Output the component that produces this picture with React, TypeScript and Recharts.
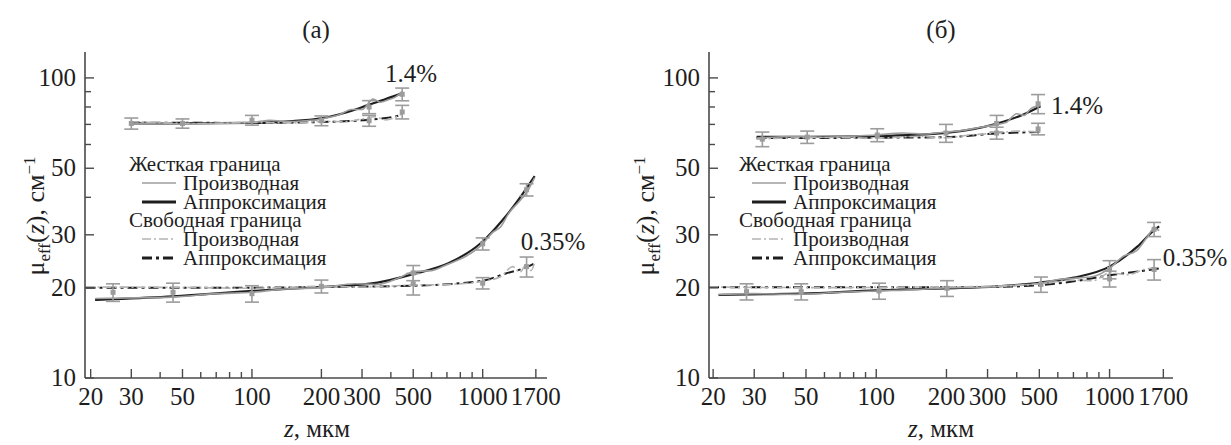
import React from 'react'
import { ComposedChart, Line, Scatter, ErrorBar, XAxis, YAxis } from 'recharts'

const FONT = 'Liberation Serif, Tinos, serif'
const INK = '#1e1e1e'
const AXIS = '#4a4a4a'
const GRAY = '#9c9c9c'
const LIGHT = '#b4b4b4'

// axis ticks
const X_MAJOR = [20, 30, 50, 100, 200, 300, 500, 1000, 1700]
const X_MINOR = [40, 60, 70, 80, 90, 400, 600, 700, 800, 900]
const Y_MAJOR = [10, 20, 30, 50, 100]
const Y_MINOR = [40, 60, 70, 80, 90]

// ---------- panel (a) ----------
// 1.4% (upper curves)
const aHiFitZ = [29.5, 50, 100, 150, 200, 260, 320, 380, 448]
const aHiFitV = [70.5, 70.5, 70.8, 71.8, 73.3, 77.0, 81.3, 85.0, 89.0]
const aHiDerZ = [29.5, 40, 50, 70, 100, 120, 140, 170, 200, 240, 270, 300, 335, 360, 390, 420, 448]
const aHiDerV = [70.0, 70.8, 70.2, 70.6, 71.0, 72.3, 71.5, 72.0, 73.0, 75.5, 78.5, 78.5, 85.0, 83.0, 84.5, 86.5, 90.0]
const aHiFreeFitZ = [29.5, 100, 200, 300, 380, 448]
const aHiFreeFitV = [71.0, 70.8, 71.3, 72.2, 73.5, 75.2]
const aHiFreeDerZ = [29.5, 60, 100, 150, 200, 250, 300, 340, 380, 420, 448]
const aHiFreeDerV = [71.5, 70.5, 71.0, 70.8, 71.6, 71.5, 73.0, 74.2, 72.5, 74.0, 76.0]
// 0.35% (lower curves)
const aLoFitZ = [20.9, 25, 45.5, 100, 200, 350, 500, 710, 1000, 1200, 1430, 1680]
const aLoFitV = [18.2, 18.3, 18.7, 19.5, 20.1, 20.8, 22.2, 24.1, 28.5, 33.1, 39.3, 47.1]
const aLoDerZ = [20.9, 30, 45, 70, 100, 140, 200, 280, 350, 430, 500, 600, 710, 850, 1000, 1100, 1200, 1300, 1430, 1550, 1680]
const aLoDerV = [18.4, 18.5, 18.6, 19.1, 19.3, 19.8, 20.0, 20.6, 20.5, 21.5, 22.6, 22.8, 24.0, 25.5, 28.0, 30.5, 32.0, 35.5, 38.5, 41.5, 46.5]
const aLoFreeFitZ = [19, 100, 200, 500, 1000, 1260, 1550, 1680]
const aLoFreeFitV = [20.0, 20.0, 20.1, 20.3, 21.1, 22.3, 23.4, 24.1]
const aLoFreeDerZ = [19, 60, 100, 200, 300, 500, 700, 1000, 1200, 1350, 1450, 1550, 1620, 1680]
const aLoFreeDerV = [20.1, 20.0, 19.9, 20.2, 20.1, 20.4, 20.5, 21.0, 21.8, 23.5, 22.5, 24.0, 22.8, 24.3]
// error bars
const aErrHardZ = [30, 50, 100, 200, 322, 448, 25, 45.5, 100, 200, 500, 1000, 1550]
const aErrHardV = [70.5, 70.5, 72.3, 72.0, 80.0, 88.2, 19.3, 19.3, 19.1, 20.2, 22.4, 28.0, 42.4]
const aErrHardE = [3.0, 2.5, 2.7, 2.7, 4.0, 4.3, 1.3, 1.4, 1.2, 1.0, 1.3, 1.3, 2.0]
const aErrFreeZ = [322, 448, 500, 1000, 1550]
const aErrFreeV = [72.0, 77.0, 20.6, 20.7, 23.5]
const aErrFreeE = [3.0, 4.0, 1.7, 0.9, 1.8]

// ---------- panel (б) ----------
const bHiFitZ = [30.7, 50, 100, 199, 260, 330, 420, 506]
const bHiFitV = [63.6, 63.6, 64.0, 65.6, 67.5, 70.5, 75.1, 80.5]
const bHiDerZ = [30.7, 45, 60, 80, 100, 130, 160, 199, 240, 280, 330, 360, 400, 430, 460, 506]
const bHiDerV = [63.0, 63.8, 63.4, 64.0, 64.5, 65.5, 65.0, 66.0, 67.0, 68.5, 70.0, 71.0, 76.0, 75.0, 79.0, 81.0]
const bHiFreeFitZ = [30.7, 100, 199, 330, 506]
const bHiFreeFitV = [63.0, 63.2, 63.5, 65.3, 66.1]
const bHiFreeDerZ = [30.7, 60, 100, 150, 199, 250, 330, 400, 506]
const bHiFreeDerV = [62.5, 63.3, 63.0, 63.8, 63.2, 64.5, 65.5, 66.5, 66.0]
const bLoFitZ = [21.1, 27.8, 47.7, 100, 200, 330, 508, 703, 1000, 1315, 1552, 1632]
const bLoFitV = [18.9, 19.0, 19.1, 19.6, 19.9, 20.2, 20.8, 21.6, 23.5, 27.4, 31.1, 32.0]
const bLoDerZ = [21.1, 30, 45, 70, 100, 150, 200, 300, 400, 508, 600, 703, 850, 1000, 1150, 1300, 1450, 1552, 1632]
const bLoDerV = [19.0, 19.1, 19.0, 19.3, 19.5, 19.7, 20.0, 20.1, 20.4, 20.7, 21.3, 21.5, 21.8, 23.2, 25.5, 26.5, 29.5, 31.5, 31.0]
const bLoFreeFitZ = [19.2, 100, 300, 508, 703, 1000, 1300, 1632]
const bLoFreeFitV = [20.05, 20.05, 20.1, 20.4, 21.0, 22.0, 22.6, 23.2]
const bLoFreeDerZ = [19.2, 60, 150, 300, 508, 700, 850, 1000, 1200, 1400, 1632]
const bLoFreeDerV = [20.1, 20.0, 20.1, 20.2, 20.6, 21.2, 21.1, 22.4, 22.1, 23.0, 23.3]
const bErrHardZ = [32.5, 50.6, 101, 199, 328, 494, 27.8, 47.7, 102.8, 201, 508, 1000, 1552]
const bErrHardV = [62.5, 63.5, 64.5, 65.5, 70.5, 82.0, 19.4, 19.4, 19.5, 19.9, 20.5, 23.0, 31.3]
const bErrHardE = [3.5, 3.0, 3.2, 4.5, 4.5, 6.0, 1.2, 1.2, 1.2, 1.2, 1.2, 1.6, 1.7]
const bErrFreeZ = [328, 494, 1000, 1552]
const bErrFreeV = [65.5, 67.6, 21.4, 23.0]
const bErrFreeE = [3.0, 3.0, 1.3, 1.8]

const zip = (z: number[], v: number[]) => z.map((zz, i) => ({ z: zz, v: v[i] }))
const zipE = (z: number[], v: number[], e: number[]) => z.map((zz, i) => ({ z: zz, v: v[i], e: e[i] }))

const XTick = (props: any) => {
  const { x, y, payload } = props
  const major = X_MAJOR.includes(payload.value)
  return (
    <g>
      <line x1={x} y1={y} x2={x} y2={y - (major ? 9 : 6)} stroke={AXIS} strokeWidth={1.4} />
      {major && (
        <text x={x} y={y + 27} textAnchor="middle" fontSize={25} style={{ fontFamily: FONT }} fill={INK}>
          {payload.value}
        </text>
      )}
    </g>
  )
}

const YTick = (props: any) => {
  const { x, y, payload } = props
  const major = Y_MAJOR.includes(payload.value)
  return (
    <g>
      <line x1={x} y1={y} x2={x + (major ? 9 : 6)} y2={y} stroke={AXIS} strokeWidth={1.4} />
      {major && (
        <text x={x - 9} y={y + 8} textAnchor="end" fontSize={25} style={{ fontFamily: FONT }} fill={INK}>
          {payload.value}
        </text>
      )}
    </g>
  )
}

const Marker = (props: any) => {
  const { cx, cy } = props
  if (cx == null || cy == null) return null
  return <rect x={cx - 2.5} y={cy - 2.5} width={5} height={5} fill={GRAY} />
}

const HARD_DER = { stroke: GRAY, strokeWidth: 1.6 }
const HARD_FIT = { stroke: INK, strokeWidth: 2.2 }
const FREE_DER = { stroke: LIGHT, strokeWidth: 1.6, strokeDasharray: '9 3 2 3' }
const FREE_FIT = { stroke: INK, strokeWidth: 2, strokeDasharray: '10 4 3 4' }

function Panel({ p }: { p: any }) {
  const fits = [
    { d: p.hiFit, s: HARD_FIT }, { d: p.loFit, s: HARD_FIT },
    { d: p.hiFreeFit, s: FREE_FIT }, { d: p.loFreeFit, s: FREE_FIT },
    { d: p.hiDer, s: HARD_DER }, { d: p.loDer, s: HARD_DER },
    { d: p.hiFreeDer, s: FREE_DER }, { d: p.loFreeDer, s: FREE_DER },
  ]
  return (
    <div style={{ position: 'absolute', left: p.left, top: 0, width: p.width, height: 445 }}>
      <ComposedChart width={p.width} height={445} margin={{ top: 52, right: p.right, bottom: 0, left: 0 }}>
        <XAxis
          dataKey="z" type="number" scale="log" domain={p.xDomain} allowDataOverflow
          ticks={[...X_MAJOR, ...X_MINOR].sort((a, b) => a - b)} interval={0}
          tick={<XTick />} tickSize={0} tickMargin={0} height={67}
          axisLine={{ stroke: AXIS, strokeWidth: 1.6 }}
        />
        <YAxis
          dataKey="v" type="number" scale="log" domain={[10, 122]} allowDataOverflow
          ticks={[...Y_MAJOR, ...Y_MINOR].sort((a, b) => a - b)} interval={0}
          tick={<YTick />} tickSize={0} tickMargin={0} width={p.yWidth}
          axisLine={{ stroke: AXIS, strokeWidth: 1.6 }}
        />
        {fits.map((f, i) => (
          <Line key={i} data={f.d} dataKey="v" type="monotone" dot={false} isAnimationActive={false} {...f.s} />
        ))}
        <Scatter data={p.errHard} dataKey="v" shape={<Marker />} isAnimationActive={false}>
          <ErrorBar dataKey="e" direction="y" width={7} stroke={GRAY} strokeWidth={1.6} />
        </Scatter>
        <Scatter data={p.errFree} dataKey="v" shape={<Marker />} isAnimationActive={false}>
          <ErrorBar dataKey="e" direction="y" width={7} stroke={GRAY} strokeWidth={1.6} />
        </Scatter>
      </ComposedChart>
    </div>
  )
}

const txt: React.CSSProperties = { position: 'absolute', fontFamily: FONT, color: INK, fontSize: 25, whiteSpace: 'nowrap', lineHeight: 1 }

function Legend({ x, y }: { x: number; y: number }) {
  const rows = [
    { label: 'Жесткая граница', head: true },
    { label: 'Производная', s: HARD_DER },
    { label: 'Аппроксимация', s: { ...HARD_FIT, strokeWidth: 3 } },
    { label: 'Свободная граница', head: true },
    { label: 'Производная', s: FREE_DER },
    { label: 'Аппроксимация', s: { ...FREE_FIT, strokeWidth: 3 } },
  ]
  return (
    <>
      {rows.map((r: any, i) => (
        <div key={i} style={{ ...txt, fontSize: 21, lineHeight: '18px', height: 18, left: x, top: y + i * 18.8 - 9, display: 'flex', alignItems: 'center' }}>
          {r.head ? (
            <span>{r.label}</span>
          ) : (
            <>
              <svg width={51} height={12} style={{ marginRight: 3 }}>
                <line x1={13} x2={47} y1={6} y2={6} {...r.s} />
              </svg>
              <span>{r.label}</span>
            </>
          )}
        </div>
      ))}
    </>
  )
}

const panelA = {
  left: 0, width: 615, right: 68, yWidth: 85, xDomain: [18.9, 1900],
  hiFit: zip(aHiFitZ, aHiFitV), hiDer: zip(aHiDerZ, aHiDerV),
  hiFreeFit: zip(aHiFreeFitZ, aHiFreeFitV), hiFreeDer: zip(aHiFreeDerZ, aHiFreeDerV),
  loFit: zip(aLoFitZ, aLoFitV), loDer: zip(aLoDerZ, aLoDerV),
  loFreeFit: zip(aLoFreeFitZ, aLoFreeFitV), loFreeDer: zip(aLoFreeDerZ, aLoFreeDerV),
  errHard: zipE(aErrHardZ, aErrHardV, aErrHardE), errFree: zipE(aErrFreeZ, aErrFreeV, aErrFreeE),
}

const panelB = {
  left: 615, width: 616, right: 58, yWidth: 94, xDomain: [19.2, 1870],
  hiFit: zip(bHiFitZ, bHiFitV), hiDer: zip(bHiDerZ, bHiDerV),
  hiFreeFit: zip(bHiFreeFitZ, bHiFreeFitV), hiFreeDer: zip(bHiFreeDerZ, bHiFreeDerV),
  loFit: zip(bLoFitZ, bLoFitV), loDer: zip(bLoDerZ, bLoDerV),
  loFreeFit: zip(bLoFreeFitZ, bLoFreeFitV), loFreeDer: zip(bLoFreeDerZ, bLoFreeDerV),
  errHard: zipE(bErrHardZ, bErrHardV, bErrHardE), errFree: zipE(bErrFreeZ, bErrFreeV, bErrFreeE),
}

const center = (x: number, y: number): React.CSSProperties => ({ ...txt, left: x, top: y, transform: 'translate(-50%, -50%)' })

function YLabel({ x }: { x: number }) {
  return (
    <div style={{ ...txt, fontSize: 26, left: x, top: 216, transform: 'translate(-50%, -50%) rotate(-90deg)' }}>
      μ<sub style={{ fontSize: 17 }}>eff</sub>(<i>z</i>), см<sup style={{ fontSize: 17 }}>−1</sup>
    </div>
  )
}

export default function App() {
  return (
    <div style={{ position: 'absolute', left: 0, top: 0, width: 1231, height: 445, background: '#fff', overflow: 'hidden', fontFamily: FONT }}>
      <style>{`#root, #root * { font-family: 'Liberation Serif', Tinos, serif; }`}</style>
      <Panel p={panelA} />
      <Panel p={panelB} />
      <div style={center(316, 29)}>(a)</div>
      <div style={center(941, 29)}>(б)</div>
      <YLabel x={37} />
      <YLabel x={647} />
      <div style={center(317, 428)}><i>z</i>, мкм</div>
      <div style={center(941, 428)}><i>z</i>, мкм</div>
      <div style={center(411, 73)}>1.4%</div>
      <div style={center(553, 241)}>0.35%</div>
      <div style={center(1077, 105)}>1.4%</div>
      <div style={center(1195, 257)}>0.35%</div>
      <Legend x={129} y={164} />
      <Legend x={739} y={164} />
    </div>
  )
}
